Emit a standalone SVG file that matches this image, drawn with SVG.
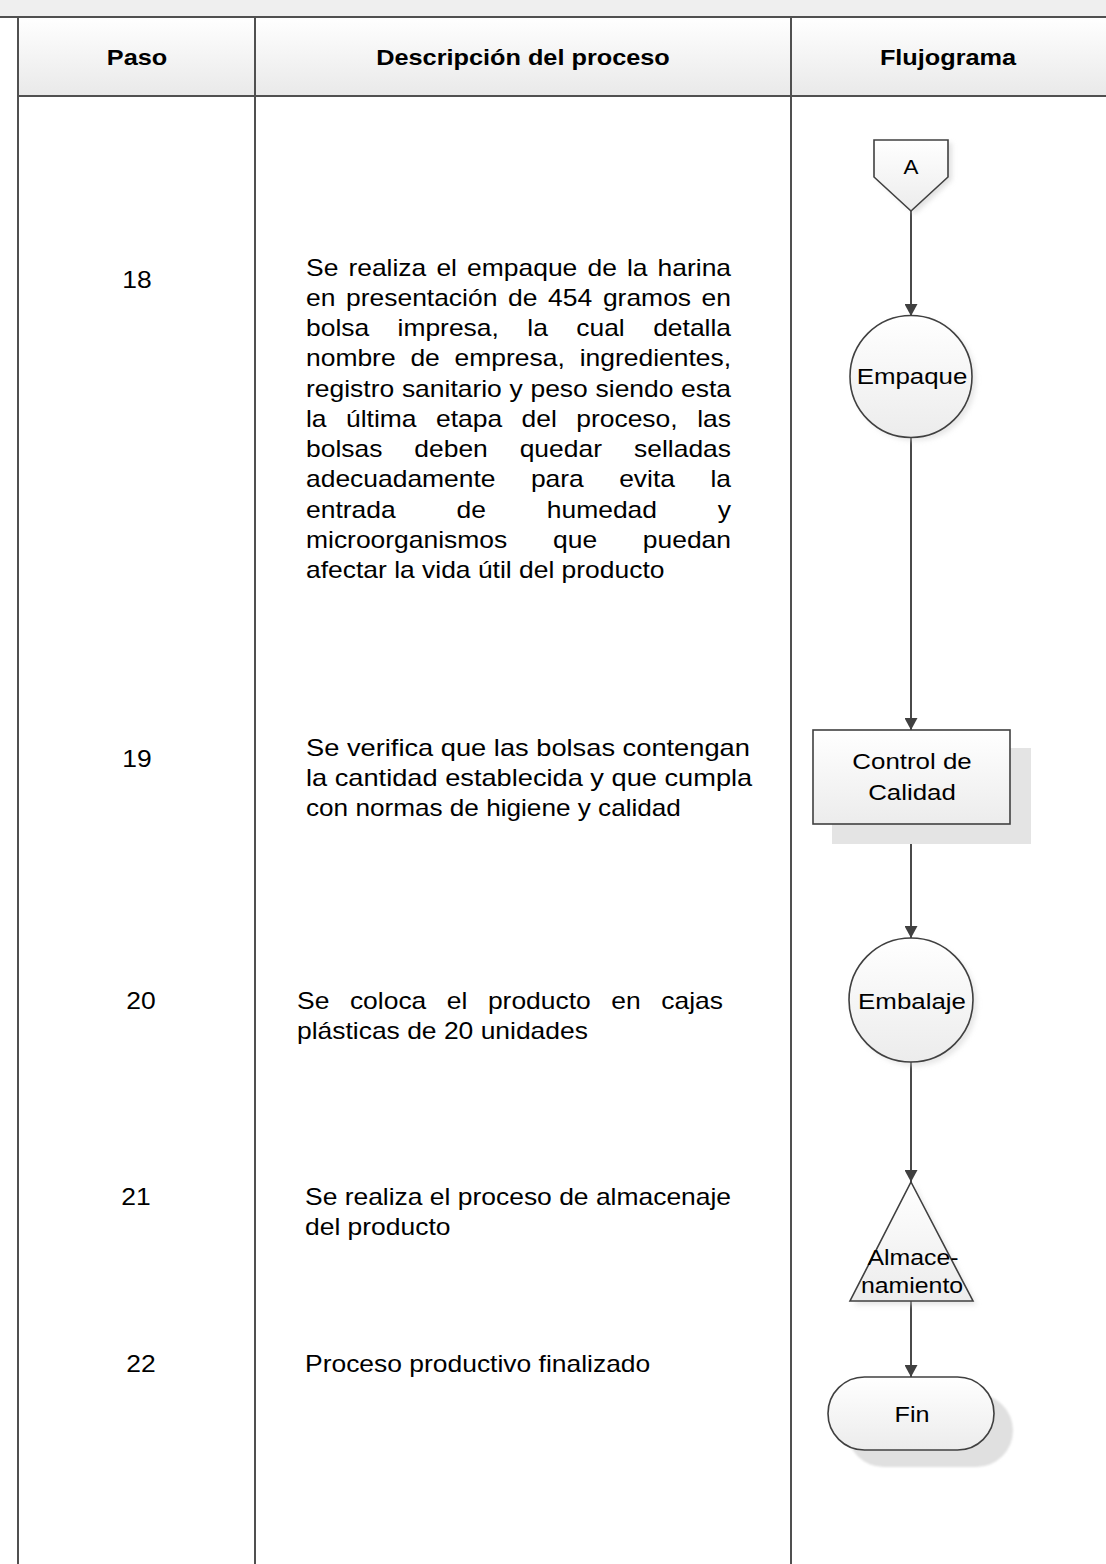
<svg xmlns="http://www.w3.org/2000/svg" width="1106" height="1564" viewBox="0 0 1106 1564">
<style>
.t{font-family:"Liberation Sans",Arial,Helvetica,sans-serif;font-size:23px;fill:#000}
.h{font-family:"Liberation Sans",Arial,Helvetica,sans-serif;font-size:22px;font-weight:bold;fill:#000}
.sh{font-family:"Liberation Sans",Arial,Helvetica,sans-serif;font-size:22.5px;fill:#000}
.e{text-anchor:end}
.m{text-anchor:middle}
.grid{stroke:#505050;stroke-width:2;fill:none}
.node{stroke:#404040;stroke-width:1.6;fill:url(#nf)}
.conn{stroke:#4a4a4a;stroke-width:2;fill:none;marker-end:url(#arr)}
</style>
<defs>
<linearGradient id="hg" x1="0" y1="0" x2="0" y2="1"><stop offset="0" stop-color="#ffffff"/><stop offset="1" stop-color="#e9e9e9"/></linearGradient>
<linearGradient id="nf" x1="0" y1="0" x2="0" y2="1"><stop offset="0" stop-color="#ffffff"/><stop offset="1" stop-color="#ececec"/></linearGradient>
<filter id="blur" x="-20%" y="-20%" width="140%" height="140%"><feGaussianBlur stdDeviation="2.5"/></filter>
<filter id="soft" x="-20%" y="-20%" width="140%" height="140%"><feGaussianBlur stdDeviation="0.8"/></filter>
<marker id="arr" viewBox="0 0 12 13" refX="12" refY="6.5" markerWidth="12" markerHeight="13" orient="auto" markerUnits="userSpaceOnUse"><path d="M0,0 L12,6.5 L0,13 z" fill="#404040"/></marker>
</defs>

<g id="table">
<rect x="0" y="0" width="1106" height="17" fill="#efefef"/>
<rect x="18" y="17" width="1088" height="79" fill="url(#hg)"/>
<line class="grid" x1="0" y1="17" x2="1106" y2="17"/>
<line class="grid" x1="18" y1="96" x2="1106" y2="96"/>
<line class="grid" x1="18" y1="17" x2="18" y2="1564"/>
<line class="grid" x1="255" y1="17" x2="255" y2="1564"/>
<line class="grid" x1="791" y1="17" x2="791" y2="1564"/>
<text class="h m" transform="translate(137,0) scale(1.15,1)" y="65">Paso</text>
<text class="h m" transform="translate(523,0) scale(1.15,1)" y="65">Descripción del proceso</text>
<text class="h m" transform="translate(948,0) scale(1.15,1)" y="65">Flujograma</text>
</g>

<g id="steps">
<text class="t m" transform="translate(137,0) scale(1.15,1)" y="288">18</text>
<text class="t m" transform="translate(137,0) scale(1.15,1)" y="767">19</text>
<text class="t m" transform="translate(141,0) scale(1.15,1)" y="1009">20</text>
<text class="t m" transform="translate(136,0) scale(1.15,1)" y="1205">21</text>
<text class="t m" transform="translate(141,0) scale(1.15,1)" y="1372">22</text>
</g>

<g id="desc18" transform="translate(306,0) scale(1.15,1)">
<text class="t" y="276"><tspan x="0">Se</tspan><tspan x="36.9">realiza</tspan><tspan x="113.4">el</tspan><tspan x="140.1">empaque</tspan><tspan x="244.8">de</tspan><tspan x="279.1">la</tspan></text>
<text class="t e" x="369.6" y="276">harina</text>
<text class="t" y="306"><tspan x="0">en</tspan><tspan x="34.8">presentación</tspan><tspan x="175.7">de</tspan><tspan x="210.5">454</tspan><tspan x="258.2">gramos</tspan></text>
<text class="t e" x="369.6" y="306">en</text>
<text class="t" y="336"><tspan x="0">bolsa</tspan><tspan x="79.6">impresa,</tspan><tspan x="192.5">la</tspan><tspan x="235">cual</tspan></text>
<text class="t e" x="369.6" y="336">detalla</text>
<text class="t" y="366"><tspan x="0">nombre</tspan><tspan x="90.8">de</tspan><tspan x="129.2">empresa,</tspan></text>
<text class="t e" x="369.6" y="366">ingredientes,</text>
<text class="t" y="397"><tspan x="0">registro</tspan><tspan x="83.4">sanitario</tspan><tspan x="177">y</tspan><tspan x="195.2">peso</tspan><tspan x="251.8">siendo</tspan></text>
<text class="t e" x="369.6" y="397">esta</text>
<text class="t" y="427"><tspan x="0">la</tspan><tspan x="34.8">última</tspan><tspan x="113">etapa</tspan><tspan x="187.4">del</tspan><tspan x="235">proceso,</tspan></text>
<text class="t e" x="369.6" y="427">las</text>
<text class="t" y="457"><tspan x="0">bolsas</tspan><tspan x="94.2">deben</tspan><tspan x="185.8">quedar</tspan></text>
<text class="t e" x="369.6" y="457">selladas</text>
<text class="t" y="487"><tspan x="0">adecuadamente</tspan><tspan x="195.6">para</tspan><tspan x="272.3">evita</tspan></text>
<text class="t e" x="369.6" y="487">la</text>
<text class="t" y="518"><tspan x="0">entrada</tspan><tspan x="130.9">de</tspan><tspan x="209.4">humedad</tspan></text>
<text class="t e" x="369.6" y="518">y</text>
<text class="t" y="548"><tspan x="0">microorganismos</tspan><tspan x="214.8">que</tspan></text>
<text class="t e" x="369.6" y="548">puedan</text>
<text class="t" x="0" y="578">afectar la vida útil del producto</text>
</g>

<g id="desc19" transform="translate(306,0) scale(1.15,1)">
<text class="t" x="0" y="756" textLength="386" lengthAdjust="spacingAndGlyphs">Se verifica que las bolsas contengan</text>
<text class="t" x="0" y="786" textLength="388" lengthAdjust="spacingAndGlyphs">la cantidad establecida y que cumpla</text>
<text class="t" x="0" y="816" textLength="326" lengthAdjust="spacingAndGlyphs">con normas de higiene y calidad</text>
</g>

<g id="desc20" transform="translate(297,0) scale(1.15,1)">
<text class="t" y="1009"><tspan x="0">Se</tspan><tspan x="46">coloca</tspan><tspan x="130.3">el</tspan><tspan x="166">producto</tspan><tspan x="273.3">en</tspan></text>
<text class="t e" x="370.4" y="1009">cajas</text>
<text class="t" x="0" y="1039">plásticas de 20 unidades</text>
</g>

<g id="desc21" transform="translate(305,0) scale(1.15,1)">
<text class="t" x="0" y="1205">Se realiza el proceso de almacenaje</text>
<text class="t" x="0" y="1235">del producto</text>
</g>

<g id="desc22" transform="translate(305,0) scale(1.15,1)">
<text class="t" x="0" y="1372">Proceso productivo finalizado</text>
</g>

<g id="connectors">
<line class="conn" x1="911" y1="211" x2="911" y2="316"/>
<line class="conn" x1="911" y1="437" x2="911" y2="730"/>
<line class="conn" x1="911" y1="824" x2="911" y2="938"/>
<line class="conn" x1="911" y1="1062" x2="911" y2="1182"/>
<line class="conn" x1="911" y1="1301" x2="911" y2="1377"/>
</g>

<g id="nodeA">
<path d="M878,143 L952,143 L952,180 L915,214 L878,180 Z" fill="#cfcfcf" opacity="0.6" filter="url(#blur)"/>
<path class="node" d="M874,140 L948,140 L948,177 L911,211 L874,177 Z"/>
<text class="t m" transform="translate(911,0) scale(1.12,1)" y="174" style="font-size:20px">A</text>
</g>

<g id="nodeEmpaque">
<circle cx="915" cy="380" r="61" fill="#d0d0d0" opacity="0.5" filter="url(#blur)"/>
<circle class="node" cx="911" cy="376.5" r="61"/>
<text class="sh m" transform="translate(912,0) scale(1.15,1)" y="384">Empaque</text>
</g>

<g id="nodeControl">
<rect x="832" y="748" width="199" height="96" fill="#e4e4e4"/>
<rect class="node" x="813" y="730" width="197" height="94"/>
<text class="sh m" transform="translate(912,0) scale(1.15,1)" y="769">Control de</text>
<text class="sh m" transform="translate(912,0) scale(1.15,1)" y="800">Calidad</text>
</g>

<g id="nodeEmbalaje">
<circle cx="915" cy="1004" r="62" fill="#d0d0d0" opacity="0.5" filter="url(#blur)"/>
<circle class="node" cx="911" cy="1000" r="62"/>
<text class="sh m" transform="translate(912,0) scale(1.15,1)" y="1009">Embalaje</text>
</g>

<g id="nodeAlmacenamiento">
<path d="M915,1186 L977,1305 L854,1305 Z" fill="#d0d0d0" opacity="0.5" filter="url(#blur)"/>
<path class="node" d="M911,1182 L973,1301 L850,1301 Z"/>
<text class="sh m" transform="translate(913,0) scale(1.13,1)" y="1265" style="font-size:22px">Almace-</text>
<text class="sh m" transform="translate(912,0) scale(1.13,1)" y="1293" style="font-size:22px">namiento</text>
</g>

<g id="nodeFin">
<rect x="847" y="1394" width="166" height="73" rx="36.5" fill="#e0e0e0" filter="url(#soft)"/>
<rect class="node" x="828" y="1377" width="166" height="73" rx="36.5"/>
<text class="sh m" transform="translate(912,0) scale(1.12,1)" y="1422">Fin</text>
</g>
</svg>
